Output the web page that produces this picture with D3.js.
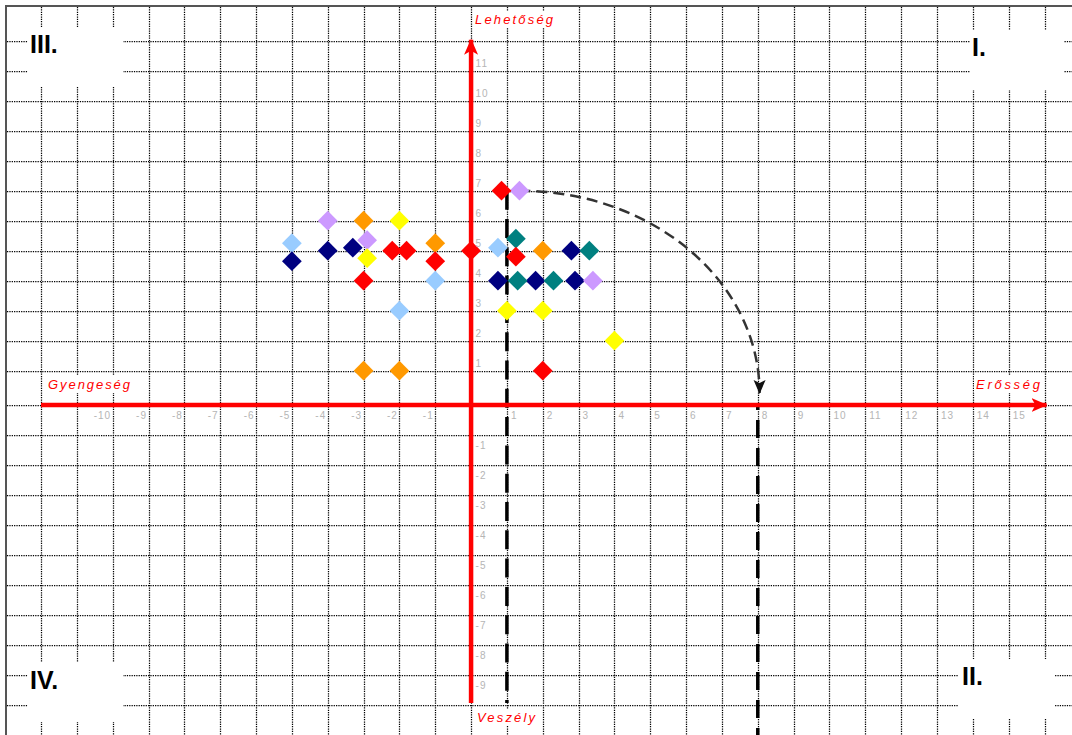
<!DOCTYPE html>
<html>
<head>
<meta charset="utf-8">
<script src="https://cdnjs.cloudflare.com/ajax/libs/d3/7.8.5/d3.min.js"></script>
<style>
body { margin: 0; background: #fff; }
svg { display: block; }
</style>
</head>
<body>
<div id="chart"></div>
<script>
// tick labels on the two axes (0 is left out)
var xTicks = [-10,-9,-8,-7,-6,-5,-4,-3,-2,-1,1,2,3,4,5,6,7,8,9,10,11,12,13,14,15];
var yTicks = [-9,-8,-7,-6,-5,-4,-3,-2,-1,1,2,3,4,5,6,7,8,9,10,11];

// axis names and quadrant names
var axisNames = ["Lehetőség", "Gyengeség", "Erősség", "Veszély"];
var quadNames = ["III.", "I.", "IV.", "II."];

// points, one array per colour [x, y]
var lightBluePts = [[-5,5.25],[-1,4],[0.75,5.1],[-2,3]];
var orangePts    = [[-3,6],[-1,5.25],[2,5],[-3,1],[-2,1]];
var navyPts      = [[-5,4.65],[-4,5],[-3.3,5.1],[2.8,5],[0.75,4],[1.8,4],[2.9,4]];
var lavenderPts  = [[-4,6],[-2.9,5.35],[1.35,7],[3.4,4]];
var yellowPts    = [[-2,6],[-2.9,4.75],[1,3],[2,3],[4,2]];
var tealPts      = [[1.25,5.4],[3.3,5],[1.3,4],[2.3,4]];
var redPts       = [[-2.2,5],[-1.8,5],[-1,4.65],[-3,4],[0,5],[0.85,7],[1.25,4.8],[2,1]];

// guide lines: vertical dashed at x=1 from y=7 down, at x=8 from 0 down, arc from (1.35,7) to (8.05,0.35)
var guideX = [1, 8];
var arcFrom = [1.35, 7];
var arcTo = [8.05, 0.35];

var series = [
  {pts: lightBluePts, color: "#99ccff"},
  {pts: orangePts,    color: "#ff9900"},
  {pts: navyPts,      color: "#000080"},
  {pts: lavenderPts,  color: "#cc99ff"},
  {pts: yellowPts,    color: "#ffff00"},
  {pts: tealPts,      color: "#008080"},
  {pts: redPts,       color: "#ff0000"}
];

var W = 1072, H = 735;

var svg = d3.select("#chart")
  .append("svg")
    .attr("width", W)
    .attr("height", H);

var x = d3.scaleLinear().domain([-12, 16]).range([41, 1044.5]);
// upper half of the grid sits a few px lower than the lower half in the original
var y = d3.scaleLinear().domain([-10, 0, 1, 12]).range([705, 405, 370.7, 40.7]);

function px(v) { return Math.round(v) + 0.5; }

var defs = svg.append("defs");
defs.append("marker")
    .attr("id", "redArrow")
    .attr("markerUnits", "userSpaceOnUse")
    .attr("viewBox", "0 -8 16 16")
    .attr("refX", 15).attr("refY", 0)
    .attr("markerWidth", 16).attr("markerHeight", 16)
    .attr("orient", "auto")
  .append("path")
    .attr("d", "M0,-7 L16,0 L0,7 L4,0 Z")
    .attr("fill", "#ff0000");
defs.append("marker")
    .attr("id", "blackArrow")
    .attr("markerUnits", "userSpaceOnUse")
    .attr("viewBox", "0 -7 14 14")
    .attr("refX", 13).attr("refY", 0)
    .attr("markerWidth", 14).attr("markerHeight", 14)
    .attr("orient", "auto")
  .append("path")
    .attr("d", "M0,-6 L14,0 L0,6 L3,0 Z")
    .attr("fill", "#111");

// dotted grid
var grid = svg.append("g")
  .attr("stroke", "#000")
  .attr("stroke-width", 1.25)
  .attr("stroke-dasharray", "1.25,1.1");
grid.selectAll(".vg")
  .data(d3.range(-12, 17))
  .enter().append("line")
    .attr("x1", function(d) { return px(x(d)); })
    .attr("x2", function(d) { return px(x(d)); })
    .attr("y1", 7).attr("y2", H);
grid.selectAll(".hg")
  .data(d3.range(-11, 13))
  .enter().append("line")
    .attr("x1", 7).attr("x2", W)
    .attr("y1", function(d) { return px(y(d)); })
    .attr("y2", function(d) { return px(y(d)); });

// white boxes behind the quadrant names
var boxes = [[28, 27, 95, 60], [970, 30, 94, 60], [28, 662, 95, 60], [958, 659, 96, 59]];
svg.append("g").selectAll("rect")
  .data(boxes)
  .enter().append("rect")
    .attr("x", function(d) { return d[0]; })
    .attr("y", function(d) { return d[1]; })
    .attr("width", function(d) { return d[2]; })
    .attr("height", function(d) { return d[3]; })
    .attr("fill", "#fff");

// frame (left and top edge, the rest is cut off)
svg.append("path")
  .attr("d", "M6," + H + " L6,6 L" + W + ",6")
  .attr("fill", "none")
  .attr("stroke", "#555")
  .attr("stroke-width", 2);

// dashed guide lines
svg.append("line")
  .attr("x1", x(guideX[0])).attr("x2", x(guideX[0]))
  .attr("y1", y(7)).attr("y2", y(-10) - 2)
  .attr("stroke", "#000").attr("stroke-width", 3.5)
  .attr("stroke-dasharray", "19,9.3");
svg.append("line")
  .attr("x1", x(guideX[1])).attr("x2", x(guideX[1]))
  .attr("y1", y(0)).attr("y2", H)
  .attr("stroke", "#000").attr("stroke-width", 3.5)
  .attr("stroke-dasharray", "18,10")
  .attr("stroke-dashoffset", 13);

// red axes with arrows
svg.append("line")
  .attr("x1", x(-12)).attr("x2", x(16) + 2)
  .attr("y1", y(0)).attr("y2", y(0))
  .attr("stroke", "#ff0000").attr("stroke-width", 4.5)
  .attr("marker-end", "url(#redArrow)");
svg.append("line")
  .attr("x1", x(0)).attr("x2", x(0))
  .attr("y1", y(-10) - 2).attr("y2", y(12) - 1)
  .attr("stroke", "#ff0000").attr("stroke-width", 4.5)
  .attr("marker-end", "url(#redArrow)");

// curved dashed arrow
var sx = x(arcFrom[0]), sy = y(arcFrom[1]), ex = x(arcTo[0]), ey = y(arcTo[1]);
svg.append("path")
  .attr("d", "M" + sx + "," + sy + " A" + (ex - sx) + "," + (ey - sy) + " 0 0 1 " + ex + "," + ey)
  .attr("fill", "none")
  .attr("stroke", "#333")
  .attr("stroke-width", 2.5)
  .attr("stroke-dasharray", "11,6")
  .attr("marker-end", "url(#blackArrow)");

// diamonds
var diamond = d3.symbol().type(d3.symbolSquare).size(195);
series.forEach(function(s) {
  svg.append("g").selectAll("path")
    .data(s.pts)
    .enter().append("path")
      .attr("d", diamond)
      .attr("transform", function(d) {
        return "translate(" + x(d[0]) + "," + y(d[1]) + ") rotate(45)";
      })
      .attr("fill", s.color);
});

// tick labels
svg.append("g").selectAll("text")
  .data(xTicks)
  .enter().append("text")
    .attr("x", function(d) { return d > 0 ? x(d) + 4 : x(d) - 1.5; })
    .attr("y", y(0) + 13.5)
    .attr("text-anchor", function(d) { return d > 0 ? "start" : "end"; })
    .attr("font-family", "Liberation Sans, Arial, sans-serif")
    .attr("font-size", "10px")
    .attr("letter-spacing", "1px")
    .attr("fill", "#b5b5b5")
    .text(function(d) { return d; });
svg.append("g").selectAll("text")
  .data(yTicks)
  .enter().append("text")
    .attr("x", x(0) + 4.5)
    .attr("y", function(d) { return d > 0 ? y(d) - 3.7 : y(d) + 13.5; })
    .attr("font-family", "Liberation Sans, Arial, sans-serif")
    .attr("font-size", "10px")
    .attr("letter-spacing", "1px")
    .attr("fill", "#b5b5b5")
    .text(function(d) { return d; });

// axis names, red italic on white
var namePos = [[475, 24, 78], [48, 389, 82], [976, 389, 64], [477, 722, 58]];
axisNames.forEach(function(n, i) {
  var g = svg.append("g");
  var t = g.append("text")
    .attr("x", namePos[i][0])
    .attr("y", namePos[i][1])
    .attr("font-family", "Liberation Sans, Arial, sans-serif")
    .attr("font-size", "13px")
    .attr("font-style", "italic")
    .attr("textLength", namePos[i][2])
    .attr("lengthAdjust", "spacing")
    .attr("fill", "#ff0000")
    .text(n);
  var b = t.node().getBBox();
  g.insert("rect", "text")
    .attr("x", b.x - 2).attr("y", b.y - 1)
    .attr("width", b.width + 4).attr("height", b.height + 2)
    .attr("fill", "#fff");
});

// quadrant names
var quadPos = [[30, 53], [972, 56], [30, 689], [962, 685]];
svg.append("g").selectAll("text")
  .data(quadNames)
  .enter().append("text")
    .attr("x", function(d, i) { return quadPos[i][0]; })
    .attr("y", function(d, i) { return quadPos[i][1]; })
    .attr("font-family", "Liberation Sans, Arial, sans-serif")
    .attr("font-size", "25px")
    .attr("font-weight", "bold")
    .attr("fill", "#000")
    .text(function(d) { return d; });
</script>
</body>
</html>
